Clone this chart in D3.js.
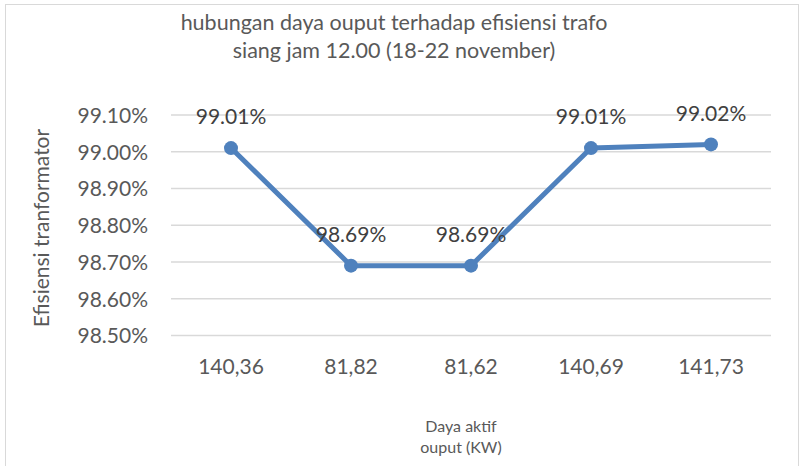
<!DOCTYPE html>
<html><head><meta charset="utf-8">
<script src="https://cdn.jsdelivr.net/npm/d3@7"></script>
<style>html,body{margin:0;padding:0;background:#fff;}</style>
</head><body>
<svg id="c" width="800" height="466"></svg>
<script>
const categories = ["140,36","81,82","81,62","140,69","141,73"];
const values = [99.01, 98.69, 98.69, 99.01, 99.02];
const yTicks = [98.5, 98.6, 98.7, 98.8, 98.9, 99.0, 99.1];
const titleLines = ["hubungan daya ouput terhadap efisiensi trafo", "siang jam 12.00 (18-22 november)"];
const xTitleLines = ["Daya aktif", "ouput (KW)"];
const yTitle = "Efisiensi tranformator";

const svg = d3.select("#c");
const font = "Lato, 'Open Sans', sans-serif";
const txt = "#595959";

// border
svg.append("rect").attr("x",5.5).attr("y",4.5).attr("width",793).attr("height",470)
  .attr("fill","#fff").attr("stroke","#d9d9d9").attr("stroke-width",1);

const x = d3.scaleBand().domain(categories).range([171,771]);
const y = d3.scaleLinear().domain([98.5,99.1]).range([335.5,115]);

// gridlines
svg.append("g").selectAll("line").data(yTicks).join("line")
  .attr("x1",171).attr("x2",771)
  .attr("y1",d=>y(d)).attr("y2",d=>y(d))
  .attr("stroke","#d9d9d9").attr("stroke-width",1.5);

// y axis labels
const yAxis = d3.axisLeft(y).tickValues(yTicks).tickSize(0).tickPadding(0)
  .tickFormat(d=>d.toFixed(2)+"%");
const ya = svg.append("g").attr("transform","translate(148,0)").call(yAxis);
ya.select(".domain").remove();
ya.selectAll("text").attr("font-family",font).attr("font-size",21).attr("fill",txt).attr("dy","0.35em");

// x axis labels
const xAxis = d3.axisBottom(x).tickSize(0).tickPadding(0);
const xa = svg.append("g").attr("transform","translate(0,367)").call(xAxis);
xa.select(".domain").remove();
xa.selectAll("text").attr("font-family",font).attr("font-size",21).attr("fill",txt).attr("dy","0.35em");

// line
const cx = (d,i)=>x(categories[i])+x.bandwidth()/2;
svg.append("path").datum(values)
  .attr("d", d3.line().x((d,i)=>cx(d,i)).y(d=>y(d)))
  .attr("fill","none").attr("stroke","#4f81bd").attr("stroke-width",5).attr("stroke-linejoin","round");
svg.append("g").selectAll("circle").data(values).join("circle")
  .attr("cx",(d,i)=>cx(d,i)).attr("cy",d=>y(d)).attr("r",7).attr("fill","#4f81bd");

// data labels
svg.append("g").selectAll("text").data(values).join("text")
  .attr("x",(d,i)=>cx(d,i)).attr("y",d=>y(d)-31).attr("dy","0.35em")
  .attr("text-anchor","middle").attr("font-family",font).attr("font-size",21).attr("fill","#404040")
  .text(d=>d.toFixed(2)+"%");

// title
svg.append("g").selectAll("text").data(titleLines).join("text")
  .attr("x",394).attr("y",(d,i)=>22+i*28).attr("dy","0.35em").attr("text-anchor","middle")
  .attr("font-family",font).attr("font-size",21.5).attr("fill",txt).text(d=>d);

// x title
svg.append("g").selectAll("text").data(xTitleLines).join("text")
  .attr("x",461).attr("y",(d,i)=>426+i*21).attr("dy","0.35em").attr("text-anchor","middle")
  .attr("font-family",font).attr("font-size",16).attr("fill",txt).text(d=>d);

// y title
svg.append("text").attr("transform","translate(42,228) rotate(-90)").attr("dy","0.35em")
  .attr("text-anchor","middle").attr("font-family",font).attr("font-size",21).attr("fill",txt).text(yTitle);
</script>
</body></html>
